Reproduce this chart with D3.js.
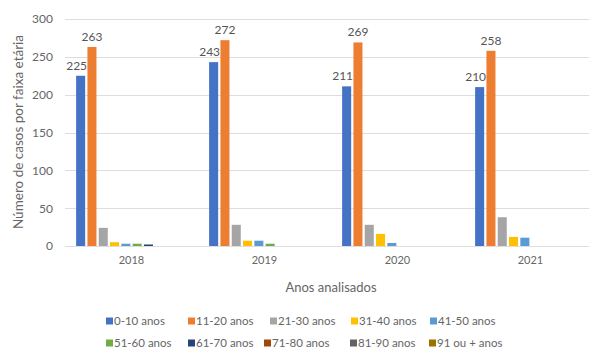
<!DOCTYPE html>
<html>
<head>
<meta charset="utf-8">
<script src="https://cdn.jsdelivr.net/npm/d3@7"></script>
<style>
  html, body { margin: 0; padding: 0; background: #fff; }
  svg { display: block; font-family: Lato, "Open Sans", sans-serif; }
</style>
</head>
<body>
<svg id="chart" width="589" height="351"></svg>
<script>
// Years on the category axis
const years = ["2018", "2019", "2020", "2021"];

// Age groups (one series each)
const ageGroups = ["0-10 anos", "11-20 anos", "21-30 anos", "31-40 anos", "41-50 anos",
                   "51-60 anos", "61-70 anos", "71-80 anos", "81-90 anos", "91 ou + anos"];

// Cases per age group, one array per year (same order as ageGroups)
const cases2018 = [225, 263, 24, 5, 3, 3, 2, 0, 0, 0];
const cases2019 = [243, 272, 28, 7, 7, 3, 0, 0, 0, 0];
const cases2020 = [211, 269, 28, 16, 4, 0, 0, 0, 0, 0];
const cases2021 = [210, 258, 38, 12, 11, 0, 0, 0, 0, 0];

// Y axis ticks
const yTicks = [0, 50, 100, 150, 200, 250, 300];

// Series that carry value labels
const labelledSeries = ["0-10 anos", "11-20 anos"];

const seriesColors = ["#4472C4", "#ED7D31", "#A5A5A5", "#FFC000", "#5B9BD5",
                      "#70AD47", "#264478", "#9E480E", "#636363", "#997300"];

const casesByYear = { "2018": cases2018, "2019": cases2019, "2020": cases2020, "2021": cases2021 };

const svg = d3.select("#chart");

const plot = { left: 65, right: 589, top: 19, bottom: 246 };
const bandStep = 133;

const x0 = d3.scaleBand()
  .domain(years)
  .range([plot.left, plot.left + bandStep * years.length])
  .paddingInner(0).paddingOuter(0);

const x1 = d3.scaleBand()
  .domain(ageGroups)
  .range([0, x0.bandwidth()])
  .paddingInner(0.2)
  .paddingOuter(0.985);

const y = d3.scaleLinear().domain([0, 300]).range([plot.bottom, plot.top]);

const color = d3.scaleOrdinal().domain(ageGroups).range(seriesColors);

const textGray = "#666666";

// Gridlines
svg.append("g")
  .selectAll("line")
  .data(yTicks)
  .join("line")
  .attr("x1", plot.left).attr("x2", plot.right)
  .attr("y1", d => Math.round(y(d)) + 0.5).attr("y2", d => Math.round(y(d)) + 0.5)
  .attr("stroke", "#dddddd").attr("stroke-width", 1);

// Y axis labels
const yAxis = d3.axisLeft(y).tickValues(yTicks).tickSize(0).tickPadding(0);
const gy = svg.append("g").attr("transform", `translate(53,0)`).call(yAxis);
gy.select(".domain").remove();
gy.selectAll("text")
  .attr("fill", textGray)
  .style("font-size", "12px")
  .style("font-family", "Lato, 'Open Sans', sans-serif");

// X axis labels
const xAxis = d3.axisBottom(x0).tickSize(0).tickPadding(0);
const gx = svg.append("g").attr("transform", `translate(0,${plot.bottom + 10})`).call(xAxis);
gx.select(".domain").remove();
gx.selectAll("text")
  .attr("fill", textGray)
  .attr("dy", "0.71em")
  .style("font-size", "11px")
  .style("font-family", "Lato, 'Open Sans', sans-serif");

// Bars
const groups = svg.append("g")
  .selectAll("g")
  .data(years)
  .join("g")
  .attr("transform", d => `translate(${x0(d)},0)`);

groups.selectAll("rect")
  .data(yr => ageGroups.map((g, i) => ({ year: yr, group: g, value: casesByYear[yr][i] })))
  .join("rect")
  .attr("x", d => x1(d.group))
  .attr("width", x1.bandwidth())
  .attr("y", d => y(d.value))
  .attr("height", d => y(0) - y(d.value))
  .attr("fill", d => color(d.group));

// Value labels on the two largest series
groups.selectAll("text.value")
  .data(yr => ageGroups
    .map((g, i) => ({ year: yr, group: g, value: casesByYear[yr][i] }))
    .filter(d => labelledSeries.includes(d.group)))
  .join("text")
  .attr("class", "value")
  .attr("x", d => x1(d.group) + x1.bandwidth() / 2 + (d.group === labelledSeries[0] ? -4 : 0))
  .attr("y", d => y(d.value) - 6)
  .attr("text-anchor", "middle")
  .attr("fill", "#555555")
  .style("font-size", "12px")
  .text(d => d.value);

// Axis titles
svg.append("text")
  .attr("x", 331).attr("y", 292)
  .attr("text-anchor", "middle")
  .attr("fill", textGray)
  .style("font-size", "13px")
  .text("Anos analisados");

svg.append("text")
  .attr("transform", "translate(23,132) rotate(-90)")
  .attr("text-anchor", "middle")
  .attr("fill", textGray)
  .style("font-size", "13.5px")
  .text("Número de casos por faixa etária");

// Legend: two rows of five entries
const legendCols = [[106, 188, 270, 351, 430], [106, 188, 264, 350, 429]];
const legendRows = [321, 343];
const legend = svg.append("g")
  .selectAll("g")
  .data(ageGroups)
  .join("g")
  .attr("transform", (d, i) => {
    const r = Math.floor(i / 5), c = i % 5;
    return `translate(${legendCols[r][c]},${legendRows[r]})`;
  });

legend.append("rect")
  .attr("x", 0).attr("y", -3.5)
  .attr("width", 7).attr("height", 7)
  .attr("fill", d => color(d));

legend.append("text")
  .attr("x", 8).attr("y", 0)
  .attr("dy", "0.35em")
  .attr("fill", textGray)
  .style("font-size", "11.5px")
  .text(d => d);
</script>
</body>
</html>
